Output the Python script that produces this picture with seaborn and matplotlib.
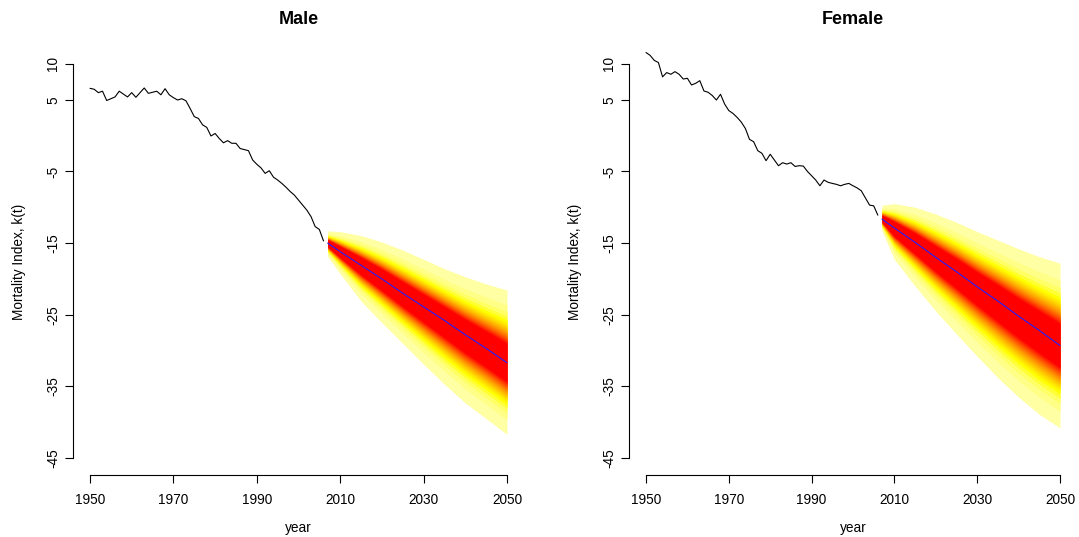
import numpy as np
import pandas as pd
import matplotlib
matplotlib.use("Agg")
import matplotlib.pyplot as plt
import seaborn as sns
from statistics import NormalDist
from matplotlib.colors import hsv_to_rgb

# ---------------- data ----------------
hist_years = list(range(1950, 2007))
male_kt = [6.6, 6.47, 6.0, 6.2, 4.9, 5.15, 5.4, 6.2, 5.8, 5.4,
           6.0, 5.35, 6.0, 6.65, 5.9, 6.05, 6.2, 5.7, 6.55, 5.7,
           5.3, 4.97, 5.15, 4.87, 3.8, 2.65, 2.4, 1.5, 1.15, -0.05,
           0.3, -0.4, -1.0, -0.7, -1.07, -1.07, -1.8, -1.95, -2.1, -3.4,
           -4.0, -4.5, -5.27, -4.9, -5.8, -6.2, -6.67, -7.2, -7.8, -8.3,
           -9.0, -9.7, -10.4, -11.3, -12.7, -13.1, -14.7]
female_kt = [11.6, 11.2, 10.5, 10.2, 8.2, 8.8, 8.56, 8.93, 8.56, 7.9,
             8.0, 7.07, 7.3, 7.67, 6.23, 6.05, 5.6, 4.97, 5.77, 4.4,
             3.5, 3.1, 2.55, 1.9, 1.0, -0.52, -0.85, -2.1, -2.47, -3.5,
             -2.6, -3.4, -4.2, -3.78, -3.97, -3.78, -4.3, -4.2, -4.25, -5.0,
             -5.6, -6.2, -7.0, -6.2, -6.52, -6.67, -6.8, -7.0, -6.8, -6.67,
             -7.0, -7.3, -7.7, -8.7, -9.7, -9.8, -11.1]

fc_years = [2007, 2010, 2015, 2020, 2025, 2030, 2035, 2040, 2045, 2050]
male_mean = [-15.0, -16.2, -18.1, -20.0, -22.0, -23.9, -25.8, -27.8, -29.7, -31.7]
male_hi99 = [-13.3, -13.4, -13.95, -14.85, -15.98, -17.27, -18.57, -19.72, -20.7, -21.56]
male_lo99 = [-16.9, -19.3, -23.1, -26.1, -29.0, -31.9, -34.7, -37.3, -39.5, -41.7]
female_mean = [-11.65, -12.9, -14.9, -17.0, -19.0, -21.1, -23.1, -25.2, -27.2, -29.3]
female_hi99 = [-9.7, -9.5, -10.0, -10.95, -12.1, -13.4, -14.6, -15.8, -16.9, -17.8]
female_lo99 = [-13.3, -17.3, -21.0, -24.5, -27.7, -30.8, -33.8, -36.5, -38.9, -40.8]

levels = list(range(51, 100, 3))          # prediction-interval levels (%)
x_ticks = [1950, 1970, 1990, 2010, 2030, 2050]
y_ticks = [10, 5, -5, -15, -25, -35, -45]
titles = ["Male", "Female"]
x_label = "year"
y_label = "Mortality Index, k(t)"

# ---------------- styling ----------------
sns.set_theme(style="white")
plt.rcParams["font.family"] = ["Liberation Sans", "DejaVu Sans"]

n_lv = len(levels)
hues = np.linspace(0, 1 / 6, n_lv - 4)
fan_colors = [hsv_to_rgb((h, 1, 1)) for h in hues] + \
             [hsv_to_rgb((1 / 6, s, 1)) for s in (0.8, 0.6, 0.47, 0.36)]

fig = plt.figure(figsize=(10.79, 5.37), dpi=100)
ax_l = fig.add_axes([72.5 / 1079, 1 - 475 / 537, 452 / 1079, 427 / 537])
ax_r = fig.add_axes([628.6 / 1079, 1 - 475 / 537, 448.8 / 1079, 427 / 537])

z99 = NormalDist().inv_cdf(0.5 + 0.99 / 2)
panels = [
    (ax_l, male_kt, male_mean, male_hi99, male_lo99, titles[0]),
    (ax_r, female_kt, female_mean, female_hi99, female_lo99, titles[1]),
]
for ax, kt, mean, hi, lo, title in panels:
    m = np.array(mean)
    h = np.array(hi)
    l = np.array(lo)
    for lv, col in zip(levels[::-1], fan_colors[::-1]):
        k = NormalDist().inv_cdf(0.5 + lv / 200) / z99
        ax.fill_between(fc_years, m - (m - l) * k, m + (h - m) * k,
                        color=col, linewidth=0, zorder=1)
    sns.lineplot(x=hist_years, y=kt, ax=ax, color="black", linewidth=0.8,
                 estimator=None, zorder=3)
    sns.lineplot(x=fc_years, y=mean, ax=ax, color="#2020ff", linewidth=0.8,
                 estimator=None, zorder=3)

    ax.set_xlim(1945.8, 2054.2)
    ax.set_ylim(-47.37, 12.23)
    for s in ("top", "right"):
        ax.spines[s].set_visible(False)
    for s in ("left", "bottom"):
        ax.spines[s].set_color("black")
        ax.spines[s].set_linewidth(0.8)
    ax.spines["left"].set_bounds(-45, 10)
    ax.spines["bottom"].set_bounds(1950, 2050)
    ax.set_xticks(x_ticks)
    ax.set_xticklabels([str(t) for t in x_ticks], fontsize=9.8)
    ax.set_yticks(y_ticks)
    ax.set_yticklabels([str(t) for t in y_ticks], fontsize=9.8,
                       rotation=90, va="center")
    ax.tick_params(axis="both", direction="out", length=6, width=0.8,
                   color="black", labelcolor="black", left=True, bottom=True)
    ax.tick_params(axis="x", pad=7)
    ax.tick_params(axis="y", pad=3)
    ax.set_xlabel(x_label, fontsize=9.8, color="black")
    ax.set_ylabel(y_label, fontsize=9.8, color="black")
    ax.xaxis.set_label_coords(0.5, -0.108)
    ax.yaxis.set_label_coords(-0.103, 0.5)
    ax.text(0.5, 1 + 29 / 427, title, transform=ax.transAxes, ha="center",
            va="center", fontsize=13, fontweight="bold", color="black")
    ax.grid(False)
    ax.set_facecolor("white")

fig.savefig("out.png", dpi=100, facecolor="white")
